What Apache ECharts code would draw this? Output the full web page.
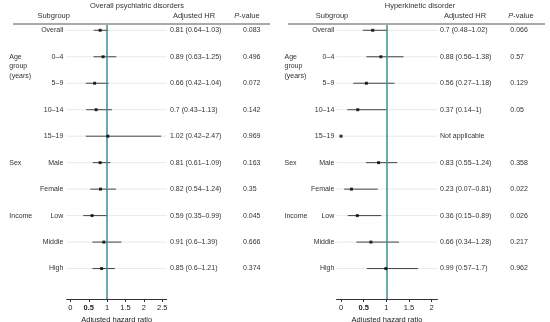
<!DOCTYPE html>
<html>
<head>
<meta charset="utf-8">
<script src="https://cdn.jsdelivr.net/npm/echarts@6/dist/echarts.min.js"></script>
<style>html,body{margin:0;padding:0;background:#fff}#c{width:550px;height:322px}</style>
</head>
<body>
<div id="c"></div>
<script>
// ---- data ----
const subgroups = ['Overall', '0–4', '5–9', '10–14', '15–19', 'Male', 'Female', 'Low', 'Middle', 'High'];
const groupLabels = [
  { row: 1, text: 'Age\ngroup\n(years)' },
  { row: 5, text: 'Sex' },
  { row: 7, text: 'Income' }
];
// Overall psychiatric disorders
const psyHR = [0.81, 0.89, 0.66, 0.7, 1.02, 0.81, 0.82, 0.59, 0.91, 0.85];
const psyLo = [0.64, 0.63, 0.42, 0.43, 0.42, 0.61, 0.54, 0.35, 0.6, 0.6];
const psyHi = [1.03, 1.25, 1.04, 1.13, 2.47, 1.09, 1.24, 0.99, 1.39, 1.21];
const psyP  = ['0.083', '0.496', '0.072', '0.142', '0.969', '0.163', '0.35', '0.045', '0.666', '0.374'];
// Hyperkinetic disorder
const hkHR = [0.7, 0.88, 0.56, 0.37, 0, 0.83, 0.23, 0.36, 0.66, 0.99];
const hkLo = [0.48, 0.56, 0.27, 0.14, null, 0.55, 0.07, 0.15, 0.34, 0.57];
const hkHi = [1.02, 1.38, 1.18, 1, null, 1.24, 0.81, 0.89, 1.28, 1.7];
const hkP  = ['0.066', '0.57', '0.129', '0.05', '', '0.358', '0.022', '0.026', '0.217', '0.962'];
// tick labels
const psyTicks = [0, 0.5, 1, 1.5, 2, 2.5];
const hkTicks = [0, 0.5, 1, 1.5, 2];

const FONT = '"Liberation Sans", Arial, sans-serif';
const TXT = '#333';

const panels = [
  { title: 'Overall psychiatric disorders', hr: psyHR, lo: psyLo, hi: psyHi, p: psyP, ticks: psyTicks,
    xmin: -0.1, xmax: 2.62, grid: { left: 66.7, width: 100 },
    titleX: 137, subX: 53.7, hrHX: 194, pHX: 247, lineX0: 13, lineX1: 270,
    labelX: 63.3, hrX: 170, pX: 243, groupX: 9.3 },
  { title: 'Hyperkinetic disorder', hr: hkHR, lo: hkLo, hi: hkHi, p: hkP, ticks: hkTicks,
    xmin: -0.1, xmax: 2.13, grid: { left: 336.5, width: 101 },
    titleX: 420, subX: 332, hrHX: 465, pHX: 521, lineX0: 288, lineX1: 545,
    labelX: 334.3, hrX: 440, pX: 510.3, groupX: 284.5 }
];

function hrText(pn, i) {
  if (pn.lo[i] == null) return 'Not applicable';
  return pn.hr[i] + ' (' + pn.lo[i] + '–' + pn.hi[i] + ')';
}

const grids = [], xAxes = [], yAxes = [], series = [], graphics = [];
panels.forEach((pn, k) => {
  grids.push({ left: pn.grid.left, width: pn.grid.width, top: 25, height: 274,
    containLabel: false, outerBoundsMode: 'none' });
  xAxes.push({
    type: 'value', gridIndex: k, min: pn.xmin, max: pn.xmax,
    axisLine: { show: true, onZero: false, lineStyle: { color: '#333', width: 1 } },
    axisTick: { show: true, customValues: pn.ticks, length: 3, lineStyle: { color: '#333' } },
    axisLabel: {
      customValues: pn.ticks, fontSize: 7.5, color: '#222', margin: 4.5, fontFamily: FONT,
      formatter: v => (v === 0.5 ? '{b|0.5}' : String(v)),
      rich: { b: { fontWeight: 'bold', fontSize: 7.5, color: '#222', fontFamily: FONT } }
    },
    splitLine: { show: false },
    name: 'Adjusted hazard ratio', nameLocation: 'middle', nameGap: 10,
    nameTextStyle: { fontSize: 7.5, color: '#222', fontFamily: FONT }
  });
  yAxes.push({ type: 'value', gridIndex: k, inverse: true, min: -0.2, max: 10.15, show: false });

  // faint row guides
  series.push({
    type: 'custom', xAxisIndex: k, yAxisIndex: k, silent: true, clip: false, z: 1,
    data: subgroups.map((_, i) => [0, i]),
    renderItem: (params, api) => {
      const i = api.value(1);
      const a = api.coord([pn.xmin, i]), b = api.coord([pn.xmax, i]);
      return { type: 'line', shape: { x1: a[0], y1: a[1], x2: b[0], y2: b[1] },
        style: { stroke: '#e9e9e9', lineWidth: 1 } };
    }
  });
  // confidence intervals
  series.push({
    type: 'custom', xAxisIndex: k, yAxisIndex: k, silent: true, clip: false, z: 3,
    data: subgroups.map((_, i) => [pn.lo[i], pn.hi[i], i]).filter(d => d[0] != null),
    encode: { x: [0, 1], y: 2 },
    renderItem: (params, api) => {
      const i = api.value(2);
      const a = api.coord([api.value(0), i]), b = api.coord([api.value(1), i]);
      return { type: 'line', shape: { x1: a[0], y1: a[1], x2: b[0], y2: b[1] },
        style: { stroke: '#444', lineWidth: 1 } };
    }
  });
  // point estimates
  series.push({
    type: 'scatter', xAxisIndex: k, yAxisIndex: k, silent: true, z: 5,
    symbol: 'rect', symbolSize: 3, itemStyle: { color: '#000' },
    data: subgroups.map((_, i) => [pn.hr[i], i]),
    markLine: {
      silent: true, symbol: 'none', label: { show: false },
      lineStyle: { color: '#3d8c94', width: 1.5, type: 'solid' },
      data: [{ xAxis: 1 }]
    }
  });
  // row texts
  series.push({
    type: 'custom', xAxisIndex: k, yAxisIndex: k, silent: true, clip: false, z: 4,
    data: subgroups.map((_, i) => [0, i]),
    renderItem: (params, api) => {
      const i = api.value(1);
      const y = api.coord([0, i])[1];
      const base = { fontSize: 7, fontFamily: FONT, fill: TXT, verticalAlign: 'middle' };
      const children = [
        { type: 'text', style: Object.assign({}, base, { text: subgroups[i], x: pn.labelX, y, align: 'right' }) },
        { type: 'text', style: Object.assign({}, base, { text: hrText(pn, i), x: pn.hrX, y, align: 'left' }) },
        { type: 'text', style: Object.assign({}, base, { text: pn.p[i], x: pn.pX, y, align: 'left' }) }
      ];
      groupLabels.filter(g => g.row === i).forEach(g => {
        const multi = g.text.indexOf('\n') >= 0;
        children.push({ type: 'text', style: Object.assign({}, base, {
          text: g.text, x: pn.groupX, y: multi ? y - 4.75 : y, align: 'left',
          verticalAlign: multi ? 'top' : 'middle', lineHeight: 9.5 }) });
      });
      return { type: 'group', children };
    }
  });

  // titles and headers
  const hs = { fontSize: 7.5, fontFamily: FONT, fill: TXT, verticalAlign: 'middle', align: 'center' };
  graphics.push({ type: 'text', style: Object.assign({}, hs, { text: pn.title, x: pn.titleX, y: 5.5 }) });
  graphics.push({ type: 'text', style: Object.assign({}, hs, { text: 'Subgroup', x: pn.subX, y: 15.7 }) });
  graphics.push({ type: 'text', style: Object.assign({}, hs, { text: 'Adjusted HR', x: pn.hrHX, y: 15.7 }) });
  graphics.push({ type: 'text', style: Object.assign({}, hs, {
    text: '{i|P}-value', x: pn.pHX, y: 15.7,
    rich: { i: { fontStyle: 'italic', fontSize: 7.5, fontFamily: FONT, fill: TXT } } }) });
  graphics.push({ type: 'line', shape: { x1: pn.lineX0, y1: 24, x2: pn.lineX1, y2: 24 },
    style: { stroke: '#555', lineWidth: 1 } });
});

const chart = echarts.init(document.getElementById('c'), null, { renderer: 'canvas' });
chart.setOption({
  animation: false,
  backgroundColor: '#fff',
  grid: grids, xAxis: xAxes, yAxis: yAxes, series, graphic: graphics
});
</script>
</body>
</html>
